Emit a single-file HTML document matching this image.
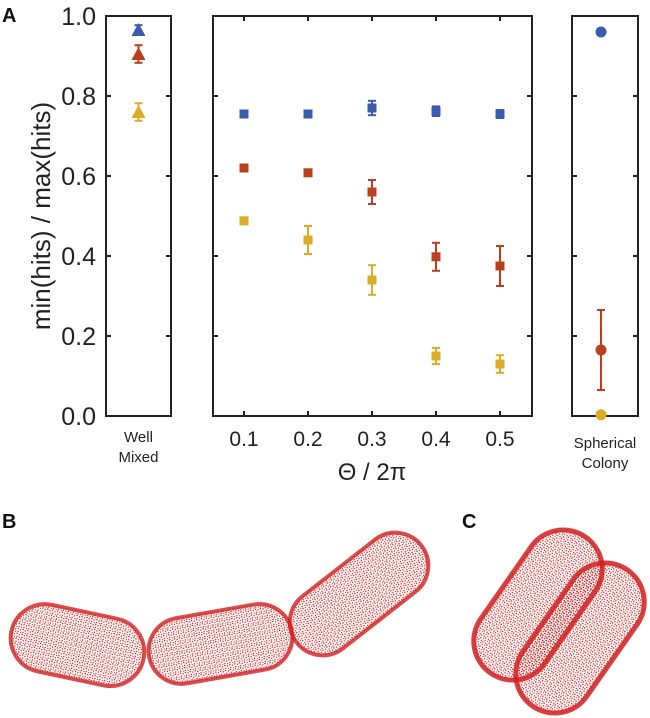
<!DOCTYPE html>
<html><head><meta charset="utf-8"><style>
html,body{margin:0;padding:0;background:#fff}
svg{display:block;font-family:"Liberation Sans","DejaVu Sans",sans-serif}
</style></head><body>
<svg id="fig" width="650" height="718" viewBox="0 0 650 718">
<defs>
<pattern id="dots" width="5" height="5" patternUnits="userSpaceOnUse">
<circle cx="1" cy="1" r="0.8" fill="#d01a1a"/><circle cx="3.5" cy="2" r="0.7" fill="#d01a1a"/><circle cx="1.5" cy="4" r="0.7" fill="#d01a1a"/><circle cx="4.2" cy="4.5" r="0.6" fill="#d01a1a"/>
</pattern>
</defs>
<text x="2" y="22" font-size="20" font-weight="bold" fill="#111">A</text>
<text x="2" y="528" font-size="20" font-weight="bold" fill="#111">B</text>
<text x="462" y="528" font-size="20" font-weight="bold" fill="#111">C</text>
<text transform="translate(50,216) rotate(-90)" text-anchor="middle" font-size="26" fill="#222">min(hits) / max(hits)</text>
<text x="372" y="480" text-anchor="middle" font-size="24" fill="#222">Θ / 2π</text>
<g id="plot"></g>
<g id="cells">
<g><rect x="10" y="611" width="135" height="68" rx="34" transform="rotate(12 77 645)" fill="url(#dots)" stroke="#d02020" stroke-width="4" stroke-opacity="0.8"/></g>
<g><rect x="148" y="611" width="145" height="66" rx="33" transform="rotate(-10 220 644)" fill="url(#dots)" stroke="#d02020" stroke-width="4" stroke-opacity="0.8"/></g>
<g><rect x="280" y="561" width="158" height="66" rx="33" transform="rotate(-38 359 594)" fill="url(#dots)" stroke="#d02020" stroke-width="4" stroke-opacity="0.8"/></g>
<g><rect x="455" y="566" width="166" height="78" rx="39" transform="rotate(-55 538 605)" fill="url(#dots)" stroke="#d02020" stroke-width="5" stroke-opacity="0.85"/></g>
<g><rect x="497" y="599" width="166" height="78" rx="39" transform="rotate(-55 580 638)" fill="url(#dots)" stroke="#d02020" stroke-width="5" stroke-opacity="0.85"/></g>
</g>
</svg>
<script>
const thetaCats = [0.1, 0.2, 0.3, 0.4, 0.5];
const yTicks = [0.0, 0.2, 0.4, 0.6, 0.8, 1.0];
const blueMid = [0.755, 0.755, 0.77, 0.762, 0.755];
const blueMidErr = [0.008, 0.006, 0.018, 0.012, 0.01];
const redMid = [0.62, 0.608, 0.56, 0.398, 0.375];
const redMidErr = [0.006, 0.008, 0.03, 0.035, 0.05];
const yelMid = [0.488, 0.44, 0.34, 0.15, 0.13];
const yelMidErr = [0.008, 0.035, 0.037, 0.02, 0.022];
const wellVals = [0.965, 0.905, 0.76];
const wellErr = [0.012, 0.022, 0.022];
const sphVals = [0.96, 0.165, 0.003];
const sphErr = [0, 0.1, 0];
const colors = ['#3a5bb0', '#b8401e', '#dcac27'];
const NS = 'http://www.w3.org/2000/svg';
const g = document.getElementById('plot');
const Y0 = 416, Y1 = 16;
function y(v){ return Y0 - (Y0 - Y1) * v; }
function xm(t){ return 244 + (t - 0.1) * 640; }
function mk(tag, attrs, parent){ const e = document.createElementNS(NS, tag); for (const k in attrs) e.setAttribute(k, attrs[k]); (parent||g).appendChild(e); return e; }
const frames = [[106,171,'well-mixed-panel'],[213,532,'theta-panel'],[572,638,'spherical-panel']];
frames.forEach(f => {
  const r = mk('rect', {x:f[0], y:Y1, width:f[1]-f[0], height:Y0-Y1, fill:'none', stroke:'#222', 'stroke-width':2});
  
  
  yTicks.forEach(t => {
    mk('line', {x1:f[0], x2:f[0]+5, y1:y(t), y2:y(t), stroke:'#222', 'stroke-width':2});
    mk('line', {x1:f[1]-5, x2:f[1], y1:y(t), y2:y(t), stroke:'#222', 'stroke-width':2});
  });
});
yTicks.forEach(t => {
  const tx = mk('text', {x:96, y:y(t)+9, 'text-anchor':'end', 'font-size':25, fill:'#222'});
  tx.textContent = t.toFixed(1);
  
  
});
thetaCats.forEach(t => {
  mk('line', {x1:xm(t), x2:xm(t), y1:Y0, y2:Y0-5, stroke:'#222', 'stroke-width':2});
  mk('line', {x1:xm(t), x2:xm(t), y1:Y1, y2:Y1+5, stroke:'#222', 'stroke-width':2});
  const tx = mk('text', {x:xm(t), y:446, 'text-anchor':'middle', 'font-size':21, fill:'#222'});
  tx.textContent = t.toFixed(1);
  
  
});
[['Well',138.5,442],['Mixed',138.5,462],['Spherical',605,448],['Colony',605,468]].forEach(l => {
  const tx = mk('text', {x:l[1], y:l[2], 'text-anchor':'middle', 'font-size':15, fill:'#222'});
  tx.textContent = l[0];
  
  
});
function err(x, v, e, c){
  if (!e) return;
  mk('line', {x1:x, x2:x, y1:y(v+e), y2:y(v-e), stroke:c, 'stroke-width':2});
  mk('line', {x1:x-4, x2:x+4, y1:y(v+e), y2:y(v+e), stroke:c, 'stroke-width':2});
  mk('line', {x1:x-4, x2:x+4, y1:y(v-e), y2:y(v-e), stroke:c, 'stroke-width':2});
}
[[blueMid,blueMidErr],[redMid,redMidErr],[yelMid,yelMidErr]].forEach((s, si) => {
  s[0].forEach((v, i) => {
    const x = xm(thetaCats[i]);
    err(x, v, s[1][i], colors[si]);
    const r = mk('rect', {x:x-4.5, y:y(v)-4.5, width:9, height:9, fill:colors[si]});
    
    
  });
});
wellVals.forEach((v, i) => {
  const x = 138.5, c = colors[i];
  err(x, v, wellErr[i], c);
  const p = mk('polygon', {points:`${x},${y(v)-7} ${x-7},${y(v)+6} ${x+7},${y(v)+6}`, fill:c});
  
  
});
sphVals.forEach((v, i) => {
  const x = 601, c = colors[i];
  err(x, v, sphErr[i], c);
  const p = mk('circle', {cx:x, cy:y(v), r:5.5, fill:c});
  
  
});
</script>
</body></html>
